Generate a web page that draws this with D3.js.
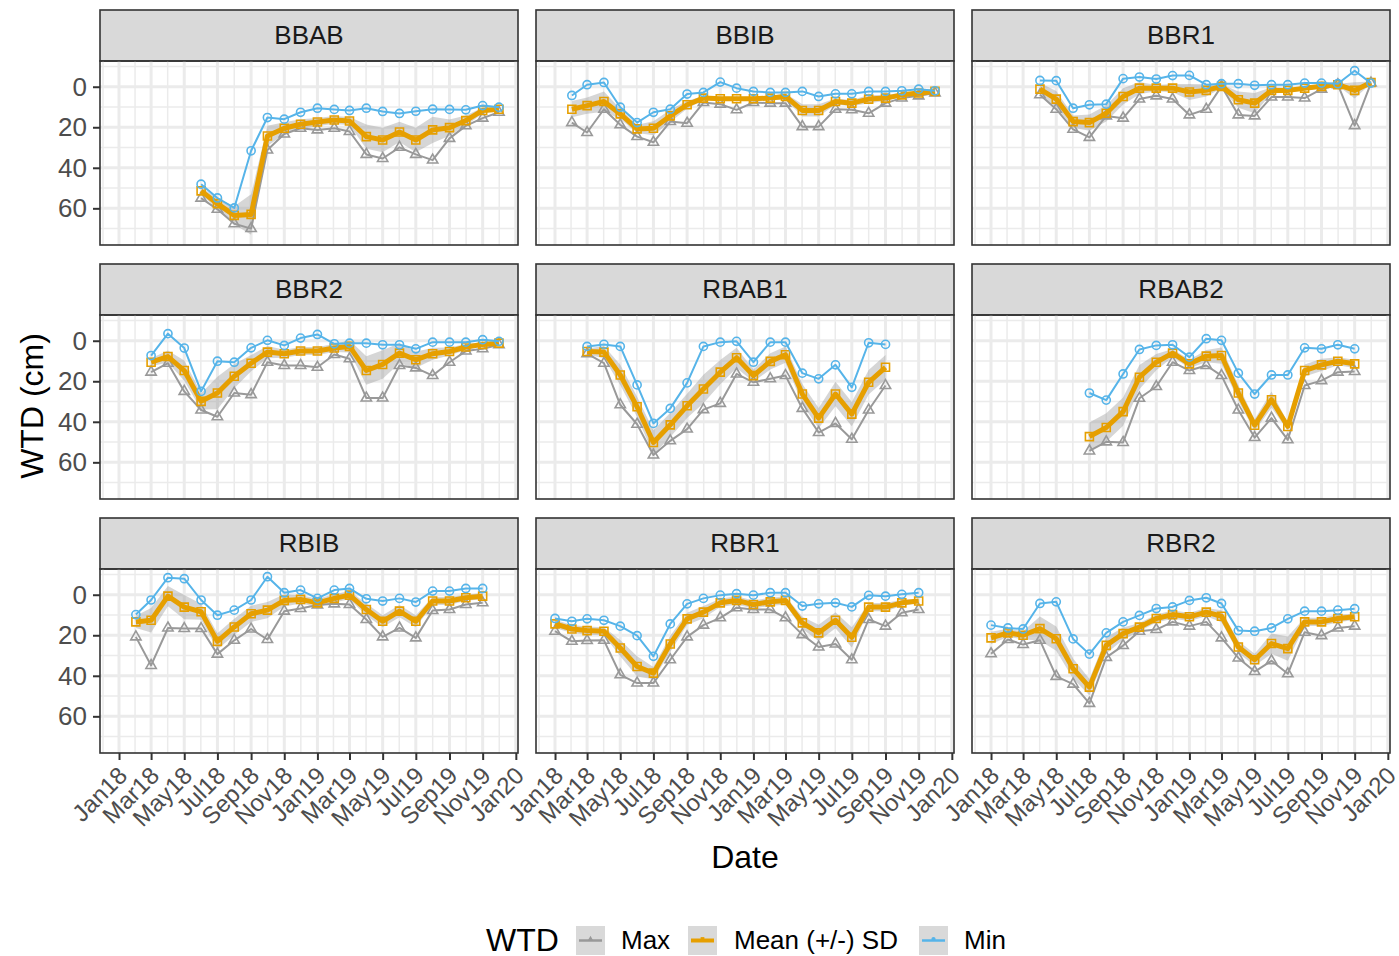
<!DOCTYPE html>
<html>
<head>
<meta charset="utf-8">
<script src="https://cdn.jsdelivr.net/npm/d3@7"></script>
<style type="text/css">
  body { margin: 0; background: #fff; }
  svg { font-family: "Liberation Sans", Arial, sans-serif; }
  .grid line { stroke: #ebebeb; }
</style>
</head>
<body>
<svg id="viewport" width="1399" height="956"></svg>
<script>
  // DATA : water table depth (cm), one record per month from firstMonth
  var sites = ["BBAB", "BBIB", "BBR1", "BBR2", "RBAB1", "RBAB2", "RBIB", "RBR1", "RBR2"];
  var firstMonth = ["2018-06", "2018-02", "2018-04", "2018-03", "2018-03", "2018-07", "2018-02", "2018-01", "2018-01"];

  var wtdMax = [
    [55, 60.5, 67.6, 70, 31.2, 23.3, 20.5, 21.3, 20.5, 22.1, 33.4, 35.4, 29.9, 33.4, 36.2, 25.5, 19.3, 15.5, 12.6],
    [17.7, 22.6, 11.1, 18.8, 24.6, 27.4, 17.2, 18, 7.8, 8.6, 11.4, 7.8, 8.1, 8.1, 19.7, 19.7, 11.1, 11.4, 13.1, 8.1, 5.6, 4.5, 3.1],
    [4, 11.1, 21, 25, 14.4, 15.5, 6.1, 4.5, 6.1, 13.9, 11.1, -0.2, 13.9, 14.4, 5.1, 5.1, 5.6, 1.2, -1, 19.2, -1.8],
    [15.5, 11.1, 25, 34.2, 37.5, 25.8, 26.6, 10.6, 12.2, 12.2, 13.1, 6.8, 8.9, 28.3, 28.3, 12.2, 13.4, 17.2, 10.6, 5.1, 4, 2],
    [6.4, 11.1, 31.6, 41.2, 56.4, 49.4, 43.6, 34, 30.9, 16.4, 20.5, 18.8, 17.2, 33.4, 45.3, 40.8, 48.6, 34.2, 22.1],
    [54.4, 49.9, 50.2, 28.4, 22.6, 10.6, 14.7, 12.2, 17.2, 34.2, 47.8, 38.2, 48.9, 22.1, 19.7, 15.5, 15.2],
    [20.8, 34.9, 16.4, 16.7, 16.7, 29.3, 22.5, 16.9, 22.1, 8.1, 6.8, 5.1, 4.5, 4.8, 12.2, 20.8, 16.4, 21.3, 7.8, 7.3, 4.8, 4],
    [18, 23, 22.6, 22.5, 39.5, 43.6, 43.6, 32.1, 20.8, 15, 11.4, 6.4, 7.3, 7.3, 11.4, 19.7, 25.8, 24.3, 32.1, 12.2, 15.5, 8.9, 7.3],
    [29.1, 22.1, 24.6, 22.5, 40.3, 44.1, 53.6, 30.9, 25.1, 18, 17.2, 13.4, 15.5, 13.4, 21.3, 31.2, 37.9, 32.6, 39, 18.5, 20.2, 16.4, 15.5]
  ];
  var wtdMean = [
    [51.4, 57.7, 63.5, 63, 24.3, 20.5, 18.5, 17.4, 16.4, 16.9, 24.6, 26.3, 22.3, 26.3, 21.3, 20.2, 16.7, 11.7, 11.1],
    [11.1, 9.3, 7.3, 13.4, 20.8, 20.5, 14.4, 8.9, 5.6, 5.9, 5.9, 5.9, 5.6, 4.8, 11.7, 11.7, 7.3, 8.1, 6.1, 5.6, 4, 3.1, 2.3],
    [1.2, 6.1, 17.2, 17.7, 13.1, 4.8, 0.7, 0.7, 0.7, 2.6, 1.8, -0.2, 6.4, 8.1, 1.8, 1.8, 0.7, -0.2, -1, 1.8, -2.1],
    [10.6, 7.8, 14.7, 29.9, 25.8, 17.5, 11.1, 5.6, 6.4, 5.1, 5.1, 3.6, 2.8, 14.7, 11.7, 6.1, 9.4, 6.4, 5.3, 3.1, 1.8, 1.2],
    [5.3, 5.6, 16.9, 32.6, 50.2, 41.5, 32.1, 23.8, 15.5, 8.4, 17.2, 10.2, 6.9, 26.3, 38.2, 26.3, 36.2, 20.5, 13.1],
    [47.3, 42.8, 35, 18, 10.6, 6.1, 11.4, 7.6, 7.3, 25.8, 41.7, 29.1, 42.3, 14.7, 11.9, 10.1, 11.4],
    [13.4, 12.6, 0.7, 6.1, 8.4, 23, 15.9, 9.4, 7.6, 2.8, 2.3, 4, 1.8, 0.2, 7.3, 13.1, 8.1, 13.1, 3.1, 3.1, 1.5, 0.7],
    [14.4, 16.9, 17.7, 18, 26.3, 35.4, 38.7, 24.3, 11.9, 8.6, 4, 2.8, 4.8, 3.5, 2.8, 13.9, 18.8, 12.6, 21, 6.1, 6.1, 4, 3.1],
    [21.3, 18.8, 20, 16.7, 21.7, 36.5, 45.6, 25, 19.2, 16, 11.7, 9.8, 10.9, 8.6, 10.6, 25.8, 32.1, 24.1, 26.6, 13.4, 13.4, 11.7, 10.9]
  ];
  var wtdMin = [
    [48.1, 54.9, 59.8, 31.6, 15.2, 16, 12.6, 10.6, 11.2, 11.7, 10.6, 12.2, 13.2, 12.1, 11.1, 11.2, 11.4, 9.3, 10.1],
    [4.3, -1, -2.1, 10.1, 17.7, 12.6, 11.1, 3.6, 2.8, -2.3, 0.7, 2.3, 2.8, 2.8, 2.3, 4.8, 3.5, 3.5, 2.3, 2.3, 2, 1.2, 2],
    [-3.1, -3, 10.6, 8.9, 8.6, -4, -4.8, -3.8, -5.5, -5.6, -1, -1.5, -1.5, -0.7, -1, -1, -1.8, -1.8, -1.5, -7.9, -1.8],
    [7.3, -3.5, 3.6, 25, 10.1, 10.6, 3.5, -0.2, 2.3, -1.3, -3.1, 1.5, 1.2, 1.2, 2, 2, 4, 0.7, 0.7, 0.7, -0.5, 0.3],
    [2.8, 1.8, 2.8, 21.8, 40.8, 33.4, 20.8, 2.8, 0.7, 0.3, 10.6, 0.7, 0.7, 16, 18.8, 11.9, 23, 1, 1.8],
    [25.8, 29.3, 16.4, 4.3, 2.3, 2, 8.1, -1, -0.2, 16, 26.3, 16.9, 16.9, 3.5, 4, 2, 4],
    [9.8, 2.6, -8.4, -7.9, 2.6, 10.1, 7.6, 2.6, -8.9, -1, -2.3, 1.8, -2.3, -3.1, 2, 3.1, 1.8, 3.6, -1.8, -1.8, -3.1, -3.1],
    [11.7, 13.1, 11.9, 12.6, 15.5, 20.2, 30.4, 14.4, 4.5, 1.8, 0.2, -0.5, 0.2, -1, -1, 5.6, 4.5, 4, 6, 0.3, 0.7, -0.2, -1],
    [15, 16.4, 16.9, 4.3, 3.5, 21.8, 29.3, 18.8, 13.4, 10.2, 6.8, 6, 2.8, 1.5, 4.3, 17.7, 18, 16.4, 11.9, 8.1, 8.1, 7.6, 6.9]
  ];
  var wtdSd = [
    [2, 2.5, 4.5, 10, 5, 3, 2.5, 2, 2, 2, 6, 6, 5, 6, 6.5, 4, 2.5, 1.5, 1],
    [4, 4, 5, 2.5, 2, 3.5, 3, 2, 1, 1, 1, 1, 1, 1.5, 3, 3, 1.5, 1.5, 2, 1.5, 1, 0.8, 0.5],
    [3, 4, 3, 4, 4, 4, 3, 1.5, 2, 4, 3, 1, 4, 5, 1.5, 1, 1, 1, 0.5, 4, 0.5],
    [2, 3, 5, 4, 8, 6, 4, 3, 2, 2, 2, 2, 3, 7, 7, 5, 4, 3, 2, 1.5, 1, 1],
    [1.5, 3, 5, 5, 6, 6, 6, 7, 6, 5, 3, 4, 4, 5, 5, 6, 6, 6, 6],
    [7, 7, 7, 6, 4, 2, 2, 3, 4, 4, 3, 4, 2, 3, 3, 2, 2],
    [3, 6, 5, 6, 4, 4, 4, 4, 4, 3, 2, 2, 2, 2, 3, 3, 3, 3, 2, 2, 1.5, 1.5],
    [2, 2, 2, 2, 4, 5, 3, 4, 3, 3, 2, 2, 2, 2, 2, 3, 4, 4, 5, 2, 2, 1.5, 1],
    [3, 2, 2, 6, 6, 5, 4, 4, 3, 2, 2, 2, 2, 2, 3, 3, 3, 5, 6, 2, 2, 2, 1.5]
  ];

  var yTicks = [0, 20, 40, 60];
  var yMinor = [-10, 10, 30, 50, 70];
  var seriesNames = ["Max", "Mean (+/-) SD", "Min"];
  var seriesColours = ["#999999", "#E69F00", "#56B4E9"];

  var svg = d3.select("svg");

  // panel layout (3 x 3 facets)
  var panelW = 418, panelH = 184, stripH = 51;
  var colX = [100, 536, 972], rowY = [10, 264, 518];

  var x = d3.scaleUtc()
    .domain([new Date(Date.UTC(2017, 10, 27)), new Date(Date.UTC(2020, 0, 5))])
    .range([0, panelW]);

  var y = d3.scaleLinear()
    .domain([-12.7, 78.1])
    .range([0, panelH]);

  var monthTicks = d3.utcMonth.every(2).range(x.domain()[0], x.domain()[1]);
  var minorTicks = [];
  for (var k = 0; k < monthTicks.length - 1; k++) {
    minorTicks.push(new Date((+monthTicks[k] + +monthTicks[k + 1]) / 2));
  }
  minorTicks.unshift(new Date(+monthTicks[0] - (monthTicks[1] - monthTicks[0]) / 2));
  minorTicks = minorTicks.filter(function(d) { return d > x.domain()[0] && d < x.domain()[1]; });

  var parseMonth = d3.utcParse("%Y-%m");
  var fmt = d3.utcFormat("%b%y");

  var symbols = [d3.symbolTriangle, d3.symbolSquare, d3.symbolCircle];
  var symbolSizes = [46, 64, 52];

  sites.forEach(function(site, i) {
    var col = i % 3, row = Math.floor(i / 3);
    var px = colX[col], top = rowY[row];

    var start = parseMonth(firstMonth[i]);
    var recs = wtdMean[i].map(function(m, j) {
      return {
        date: d3.utcMonth.offset(start, j),
        max: wtdMax[i][j],
        mean: m,
        min: wtdMin[i][j],
        sd: wtdSd[i][j]
      };
    });

    // strip
    var strip = svg.append("g").attr("transform", "translate(" + px + "," + top + ")");
    strip.append("rect")
      .attr("width", panelW).attr("height", stripH)
      .attr("fill", "#d9d9d9").attr("stroke", "#333").attr("stroke-width", 1.6);
    strip.append("text")
      .attr("x", panelW / 2).attr("y", stripH / 2)
      .attr("dy", "0.34em")
      .attr("text-anchor", "middle")
      .attr("font-size", 26).attr("fill", "#1a1a1a")
      .text(site);

    var g = svg.append("g").attr("transform", "translate(" + px + "," + (top + stripH) + ")");

    // grid
    var grid = g.append("g").attr("class", "grid");
    grid.selectAll(".vmin").data(minorTicks).enter().append("line")
      .attr("x1", x).attr("x2", x).attr("y1", 0).attr("y2", panelH)
      .attr("stroke-width", 1.5);
    grid.selectAll(".hmin").data(yMinor).enter().append("line")
      .attr("y1", y).attr("y2", y).attr("x1", 0).attr("x2", panelW)
      .attr("stroke-width", 1.5);
    grid.selectAll(".vmaj").data(monthTicks).enter().append("line")
      .attr("x1", x).attr("x2", x).attr("y1", 0).attr("y2", panelH)
      .attr("stroke-width", 3);
    grid.selectAll(".hmaj").data(yTicks).enter().append("line")
      .attr("y1", y).attr("y2", y).attr("x1", 0).attr("x2", panelW)
      .attr("stroke-width", 3);

    // SD ribbon
    var ribbon = d3.area()
      .x(function(d) { return x(d.date); })
      .y0(function(d) { return y(d.mean - d.sd); })
      .y1(function(d) { return y(d.mean + d.sd); });
    g.append("path").datum(recs)
      .attr("d", ribbon)
      .attr("fill", "#999").attr("fill-opacity", 0.4);

    // lines and points : Max, Mean, Min
    ["max", "mean", "min"].forEach(function(key, s) {
      var line = d3.line()
        .x(function(d) { return x(d.date); })
        .y(function(d) { return y(d[key]); });
      g.append("path").datum(recs)
        .attr("d", line)
        .attr("fill", "none")
        .attr("stroke", seriesColours[s])
        .attr("stroke-width", key == "mean" ? 5 : 2)
        .attr("stroke-linejoin", "round");
      g.selectAll(".pt-" + key).data(recs).enter().append("path")
        .attr("transform", function(d) { return "translate(" + x(d.date) + "," + y(d[key]) + ")"; })
        .attr("d", d3.symbol().type(symbols[s]).size(symbolSizes[s]))
        .attr("fill", "none")
        .attr("stroke", seriesColours[s])
        .attr("stroke-width", 1.6);
    });

    // panel border
    g.append("rect")
      .attr("width", panelW).attr("height", panelH)
      .attr("fill", "none").attr("stroke", "#333").attr("stroke-width", 1.6);

    // y axis on first column
    if (col == 0) {
      var ya = g.append("g")
        .call(d3.axisLeft(y).tickValues(yTicks).tickSize(7).tickPadding(6));
      ya.select(".domain").remove();
      ya.selectAll("line").attr("stroke", "#333").attr("stroke-width", 2);
      ya.selectAll("text").attr("font-size", 26).attr("fill", "#4d4d4d")
        .attr("font-family", "Liberation Sans, Arial, sans-serif");
    }

    // x axis on bottom row
    if (row == 2) {
      var xa = g.append("g")
        .attr("transform", "translate(0," + panelH + ")")
        .call(d3.axisBottom(x).tickValues(monthTicks).tickFormat(fmt).tickSize(7));
      xa.select(".domain").remove();
      xa.selectAll("line").attr("stroke", "#333").attr("stroke-width", 2);
      xa.selectAll("text")
        .attr("font-size", 24).attr("fill", "#4d4d4d")
        .attr("font-family", "Liberation Sans, Arial, sans-serif")
        .attr("text-anchor", "end")
        .attr("y", 0).attr("dy", "0.71em")
        .attr("transform", "translate(-3,12) rotate(-45)");
    }
  });

  // axis titles
  svg.append("text")
    .attr("x", 745).attr("y", 868)
    .attr("text-anchor", "middle")
    .attr("font-size", 32)
    .text("Date");

  svg.append("text")
    .attr("transform", "translate(43,406) rotate(-90)")
    .attr("text-anchor", "middle")
    .attr("font-size", 32)
    .text("WTD (cm)");

  // legend
  var legend = svg.append("g");
  legend.append("text")
    .attr("x", 486).attr("y", 951)
    .attr("font-size", 32)
    .text("WTD");

  var keyX = [576, 688, 919];
  var labelX = [621, 734, 964];
  seriesNames.forEach(function(name, s) {
    var key = legend.append("g").attr("transform", "translate(" + keyX[s] + ",926)");
    key.append("rect")
      .attr("width", 29).attr("height", 29)
      .attr("fill", "#d9d9d9");
    key.append("line")
      .attr("x1", 3).attr("x2", 26).attr("y1", 14.5).attr("y2", 14.5)
      .attr("stroke", seriesColours[s]).attr("stroke-width", s == 1 ? 4 : 2.5);
    key.append("path")
      .attr("transform", "translate(14.5,13)")
      .attr("d", d3.symbol().type(symbols[s]).size(14))
      .attr("fill", seriesColours[s]);
    legend.append("text")
      .attr("x", labelX[s]).attr("y", 940)
      .attr("dy", "0.36em")
      .attr("font-size", 26)
      .text(name);
  });
</script>
</body>
</html>
